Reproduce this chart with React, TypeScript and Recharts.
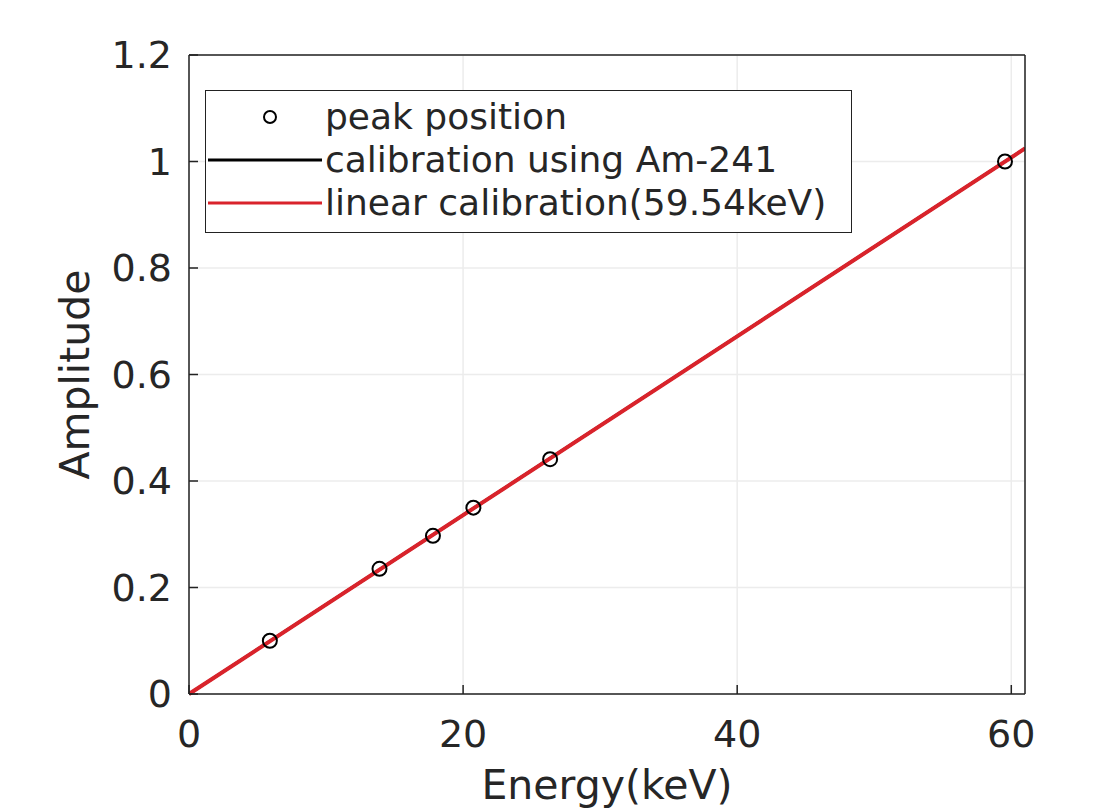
import { ComposedChart, Line, Scatter, XAxis, YAxis, CartesianGrid } from 'recharts';

const peakEnergy = [5.9, 13.9, 17.8, 20.75, 26.35, 59.54];
const peakAmplitude = [0.1, 0.235, 0.297, 0.35, 0.441, 1.0];

const fitEnergy = [0, 61];
const am241Fit = [0, 1.0245];
const linearFit = [0, 1.0245];

const xTicks = [0, 20, 40, 60];
const yTicks = [0, 0.2, 0.4, 0.6, 0.8, 1, 1.2];

const peaks = peakEnergy.map((e, i) => ({ e, a: peakAmplitude[i] }));
const am241 = fitEnergy.map((e, i) => ({ e, a: am241Fit[i] }));
const linear = fitEnergy.map((e, i) => ({ e, a: linearFit[i] }));

const FONT = '"DejaVu Sans", sans-serif';
const INK = '#262626';
const RED = '#d9232b';

function LegendBox() {
  const rows = [
    { label: 'peak position', kind: 'circle' },
    { label: 'calibration using Am-241', kind: 'black' },
    { label: 'linear calibration(59.54keV)', kind: 'red' },
  ];
  return (
    <div
      style={{
        position: 'absolute',
        left: 205,
        top: 90,
        width: 647,
        height: 143,
        border: '1.5px solid #222',
        background: '#fff',
        fontFamily: FONT,
        fontSize: 36,
        color: INK,
        boxSizing: 'border-box',
      }}
    >
      {rows.map((r, i) => (
        <div
          key={r.label}
          style={{
            position: 'absolute',
            left: 0,
            top: 4 + i * 43,
            height: 43,
            display: 'flex',
            alignItems: 'center',
            whiteSpace: 'nowrap',
          }}
        >
          <svg width={118} height={43}>
            {r.kind === 'circle' ? (
              <circle cx={64} cy={22} r={6} fill="none" stroke="#000" strokeWidth={2} />
            ) : (
              <line x1={2} x2={116} y1={22} y2={22} stroke={r.kind === 'red' ? RED : '#000'} strokeWidth={3} />
            )}
          </svg>
          <span style={{ marginLeft: 1 }}>{r.label}</span>
        </div>
      ))}
    </div>
  );
}

export default function App() {
  return (
    <div style={{ position: 'absolute', left: 0, top: 0, width: 1100, height: 810, background: '#fff' }}>
      <ComposedChart width={1100} height={810} margin={{ top: 54, right: 74, left: 0, bottom: 0 }}>
        <CartesianGrid stroke="#ececec" strokeWidth={1.5} />
        <XAxis
          type="number"
          dataKey="e"
          domain={[0, 61]}
          ticks={xTicks}
          height={116}
          allowDataOverflow
          stroke="#222"
          strokeWidth={1.5}
          tickSize={-9}
          tickMargin={35}
          tick={{ fill: INK, fontSize: 38, fontFamily: FONT }}
          label={{ value: 'Energy(keV)', position: 'insideBottom', offset: 11, fill: INK, fontSize: 41, fontFamily: FONT }}
        />
        <XAxis
          xAxisId="top"
          orientation="top"
          type="number"
          domain={[0, 61]}
          ticks={xTicks}
          height={1}
          stroke="#222"
          strokeWidth={1.5}
          tickSize={-9}
          tick={false}
        />
        <YAxis
          type="number"
          domain={[0, 1.2]}
          ticks={yTicks}
          width={189}
          stroke="#222"
          strokeWidth={1.5}
          tickSize={-9}
          tickMargin={26}
          tick={{ fill: INK, fontSize: 38, fontFamily: FONT }}
          label={{
            content: ({ viewBox }: any) => (
              <text
                x={78}
                y={viewBox.y + viewBox.height / 2}
                transform={`rotate(-90, 78, ${viewBox.y + viewBox.height / 2})`}
                textAnchor="middle"
                dominantBaseline="middle"
                fill={INK}
                fontSize={41}
                fontFamily={FONT}
              >
                Amplitude
              </text>
            ),
          }}
        />
        <YAxis
          yAxisId="right"
          orientation="right"
          type="number"
          domain={[0, 1.2]}
          ticks={yTicks}
          width={1}
          stroke="#222"
          strokeWidth={1.5}
          tickSize={-9}
          tick={false}
        />
        <Line
          data={am241}
          dataKey="a"
          type="linear"
          stroke="#000"
          strokeWidth={3}
          dot={false}
          isAnimationActive={false}
        />
        <Line
          data={linear}
          dataKey="a"
          type="linear"
          stroke={RED}
          strokeWidth={4}
          dot={false}
          isAnimationActive={false}
        />
        <Scatter
          data={peaks}
          dataKey="a"
          isAnimationActive={false}
          shape={(p: any) => <circle cx={p.cx} cy={p.cy} r={7} fill="none" stroke="#000" strokeWidth={2} />}
        />
      </ComposedChart>
      <LegendBox />
    </div>
  );
}
